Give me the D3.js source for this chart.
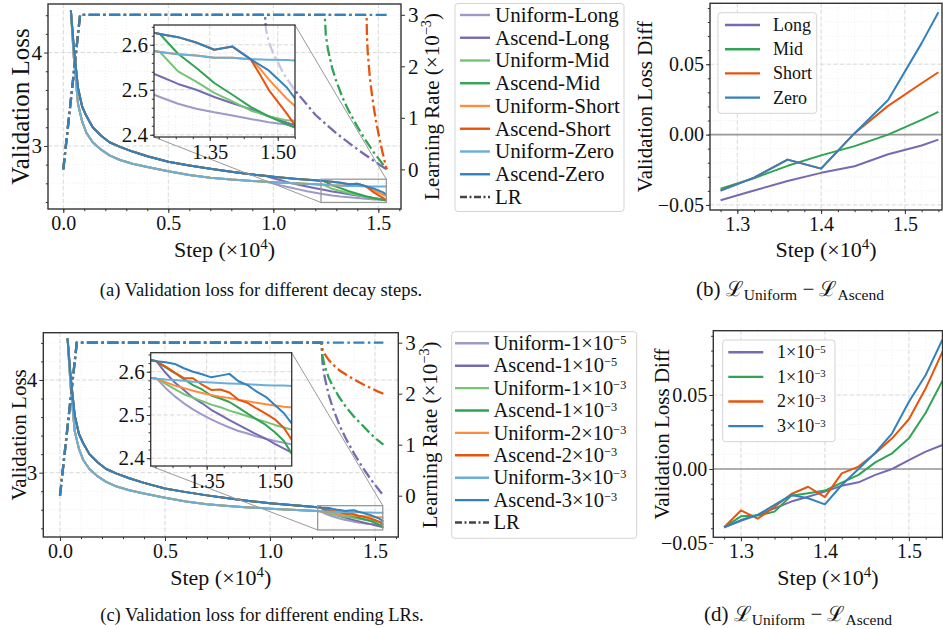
<!DOCTYPE html>
<html>
<head>
<meta charset="utf-8">
<script src="https://cdn.jsdelivr.net/npm/d3@7"></script>
<style>
  body { margin: 0; background: #fff; }
  svg text { font-family: "Liberation Serif", "Times New Roman", "DejaVu Serif", serif; fill: #111; }
</style>
</head>
<body>
<svg id="fig" width="943" height="629"></svg>
<script>
// ---------- data (step in units of 1e4) ----------
// shared constant-LR phase
const stableSteps   = [0.036, 0.05, 0.07, 0.09, 0.11, 0.14, 0.18, 0.22, 0.27, 0.33, 0.4, 0.5, 0.6, 0.7, 0.8, 0.9, 0.96, 1.0, 1.1, 1.2, 1.24];
const ascendStable  = [4.45, 4.05, 3.62, 3.42, 3.32, 3.2, 3.11, 3.04, 2.99, 2.94, 2.89, 2.83, 2.79, 2.755, 2.725, 2.695, 2.68, 2.67, 2.65, 2.633, 2.624];
const uniformStable = [4.45, 3.95, 3.45, 3.26, 3.14, 3.04, 2.96, 2.9, 2.85, 2.81, 2.775, 2.73, 2.69, 2.66, 2.64, 2.625, 2.618, 2.612, 2.600, 2.590, 2.584];

// (a) decay-step runs
const tailStepsA  = [1.24, 1.28, 1.32, 1.36, 1.40, 1.44, 1.48, 1.52, 1.54];
const ascZeroA    = [2.624, 2.617, 2.605, 2.589, 2.596, 2.568, 2.543, 2.505, 2.478];
const uniZeroA    = [2.584, 2.579, 2.576, 2.571, 2.571, 2.568, 2.567, 2.566, 2.565];
const ascMidA     = [2.624, 2.580, 2.549, 2.515, 2.489, 2.462, 2.441, 2.423, 2.415];
const uniMidA     = [2.584, 2.541, 2.518, 2.493, 2.474, 2.454, 2.441, 2.432, 2.431];
const shortStepsA = [1.44, 1.46, 1.48, 1.52, 1.54];
const ascShortA   = [2.568, 2.535, 2.500, 2.447, 2.418];
const uniShortA   = [2.568, 2.548, 2.523, 2.480, 2.462];
const longStepsA  = [0.96, 1.0, 1.04, 1.08, 1.12, 1.16, 1.2, 1.24, 1.28, 1.32, 1.36, 1.40, 1.44, 1.48, 1.52, 1.54];
const ascLongA    = [2.68, 2.655, 2.63, 2.605, 2.585, 2.565, 2.547, 2.53, 2.513, 2.50, 2.484, 2.47, 2.457, 2.441, 2.427, 2.421];
const uniLongA    = [2.618, 2.597, 2.575, 2.555, 2.535, 2.515, 2.5, 2.484, 2.469, 2.458, 2.45, 2.443, 2.435, 2.428, 2.423, 2.418];

// (c) ending-LR runs
const tailStepsC = [1.24, 1.26, 1.28, 1.30, 1.32, 1.34, 1.36, 1.38, 1.40, 1.42, 1.44, 1.46, 1.48, 1.50, 1.52, 1.54];
const asc3e3C = [2.624, 2.622, 2.618, 2.608, 2.600, 2.594, 2.587, 2.591, 2.595, 2.578, 2.569, 2.554, 2.542, 2.523, 2.504, 2.476];
const uni3e3C = [2.584, 2.582, 2.581, 2.579, 2.577, 2.576, 2.575, 2.574, 2.573, 2.572, 2.571, 2.570, 2.569, 2.568, 2.568, 2.567];
const asc2e3C = [2.624, 2.612, 2.598, 2.585, 2.585, 2.570, 2.558, 2.559, 2.552, 2.535, 2.528, 2.515, 2.503, 2.490, 2.470, 2.438];
const uni2e3C = [2.584, 2.576, 2.568, 2.562, 2.556, 2.551, 2.546, 2.542, 2.539, 2.535, 2.532, 2.528, 2.525, 2.522, 2.519, 2.517];
const asc1e3C = [2.624, 2.610, 2.597, 2.583, 2.569, 2.559, 2.545, 2.538, 2.530, 2.517, 2.503, 2.490, 2.477, 2.460, 2.440, 2.405];
const uni1e3C = [2.584, 2.572, 2.560, 2.548, 2.540, 2.532, 2.524, 2.518, 2.510, 2.504, 2.497, 2.490, 2.484, 2.477, 2.471, 2.465];
const asc1e5C = [2.624, 2.597, 2.575, 2.558, 2.540, 2.527, 2.512, 2.500, 2.488, 2.477, 2.466, 2.455, 2.445, 2.433, 2.422, 2.412];
const uni1e5C = [2.584, 2.562, 2.543, 2.527, 2.513, 2.501, 2.490, 2.480, 2.471, 2.463, 2.457, 2.450, 2.445, 2.440, 2.436, 2.431];

// learning-rate schedules (x1e-3)
const lrWarmSteps  = [0, 0.08];
const lrWarmVals   = [0, 3];
const lrConstSteps = [0.08, 1.54];
const lrConstVals  = [3, 3];
const lrLongSteps  = [0.96, 0.965, 0.98, 1.0, 1.05, 1.1, 1.2, 1.3, 1.4, 1.48, 1.54];
const lrLongVals   = [3.0, 2.72, 2.45, 2.25, 1.85, 1.55, 1.06, 0.7, 0.39, 0.16, 0];
const lrMidSteps   = [1.245, 1.25, 1.26, 1.28, 1.30, 1.33, 1.36, 1.40, 1.44, 1.48, 1.51, 1.54];
const lrMidVals    = [3.0, 2.61, 2.33, 1.97, 1.71, 1.39, 1.13, 0.83, 0.56, 0.32, 0.16, 0];
const lrShortSteps = [1.444, 1.446, 1.45, 1.46, 1.47, 1.48, 1.49, 1.50, 1.51, 1.52, 1.53, 1.54];
const lrShortVals  = [3.0, 2.57, 2.25, 1.77, 1.44, 1.16, 0.92, 0.71, 0.51, 0.33, 0.16, 0];
const lrEndSteps   = [1.245, 1.25, 1.26, 1.28, 1.30, 1.33, 1.36, 1.40, 1.44, 1.48, 1.51, 1.54];
const lrTo2Vals    = [3.0, 2.87, 2.78, 2.66, 2.57, 2.46, 2.38, 2.28, 2.19, 2.11, 2.05, 2.0];
const lrTo1Vals    = [3.0, 2.74, 2.55, 2.31, 2.14, 1.93, 1.75, 1.55, 1.38, 1.21, 1.1, 1.0];
const lrTo0Vals    = [3.0, 2.61, 2.33, 1.97, 1.71, 1.39, 1.13, 0.83, 0.56, 0.32, 0.16, 0];

// (b) L_uniform - L_ascend
const diffStepsB = [1.28, 1.32, 1.36, 1.40, 1.44, 1.48, 1.52, 1.54];
const diffLongB  = [-0.0467, -0.0398, -0.0330, -0.0272, -0.0225, -0.0140, -0.0078, -0.0036];
const diffMidB   = [-0.0384, -0.0310, -0.0222, -0.0148, -0.0082, 0.0000, 0.0105, 0.0161];
const diffShortB = [-0.0398, -0.0306, -0.0178, -0.0242, 0.0010, 0.0204, 0.0365, 0.0443];
const diffZeroB  = [-0.0398, -0.0306, -0.0178, -0.0242, 0.0010, 0.0246, 0.0650, 0.0870];

// (d) L_uniform - L_ascend
const diffStepsD = [1.28, 1.30, 1.32, 1.34, 1.36, 1.38, 1.40, 1.42, 1.44, 1.46, 1.48, 1.50, 1.52, 1.54];
const diff1e5D = [-0.0394, -0.0350, -0.0310, -0.0266, -0.0220, -0.0187, -0.0153, -0.0113, -0.0090, -0.0040, 0.0000, 0.0060, 0.0117, 0.0162];
const diff1e3D = [-0.0394, -0.0320, -0.0315, -0.0288, -0.0180, -0.0164, -0.0146, -0.0092, -0.0040, 0.0045, 0.0106, 0.0207, 0.0380, 0.0597];
const diff2e3D = [-0.0394, -0.0280, -0.0336, -0.0255, -0.0169, -0.0120, -0.0190, -0.0030, 0.0016, 0.0106, 0.0207, 0.0336, 0.0545, 0.0793];
const diff3e3D = [-0.0394, -0.0345, -0.0310, -0.0243, -0.0176, -0.0198, -0.0239, -0.0108, 0.0000, 0.0110, 0.0241, 0.0455, 0.0635, 0.0876];

// labels / ticks
const labelsA = ['Uniform-Long', 'Ascend-Long', 'Uniform-Mid', 'Ascend-Mid', 'Uniform-Short', 'Ascend-Short', 'Uniform-Zero', 'Ascend-Zero'];
const labelsC = [['Uniform-1×10', '−5'], ['Ascend-1×10', '−5'], ['Uniform-1×10', '−3'], ['Ascend-1×10', '−3'],
                 ['Uniform-2×10', '−3'], ['Ascend-2×10', '−3'], ['Uniform-3×10', '−3'], ['Ascend-3×10', '−3']];
const labelsB = ['Long', 'Mid', 'Short', 'Zero'];
const labelsD = [['1×10', '−5'], ['1×10', '−3'], ['2×10', '−3'], ['3×10', '−3']];
const colors8 = ['#9e9ac8', '#756bb1', '#74c476', '#31a354', '#fd8d3c', '#e6550d', '#6baed6', '#3182bd'];
const colors4 = ['#756bb1', '#31a354', '#e6550d', '#3182bd'];
const xTicksMain = [0, 0.5, 1.0, 1.5];
const yTicksMain = [3, 4];
const lrTicks = [0, 1, 2, 3];
const xTicksInset = [1.35, 1.50];
const yTicksInset = [2.4, 2.5, 2.6];
const xTicksDiff = [1.3, 1.4, 1.5];
const yTicksDiff = [-0.05, 0, 0.05];

const FONT = '"Liberation Serif","Times New Roman","DejaVu Serif",serif';
const svg = d3.select('#fig');
const defs = svg.append('defs');
const LR_DASH = '11,3.5,2.5,3.5';

const pts = (xs, ys) => xs.map((v, i) => [v, ys[i]]);
const extend = (base, tail) => base.filter(p => p[0] < tail[0][0]).concat(tail);
const inside = (arr, dom) => arr.filter(v => v >= Math.min(...dom) - 1e-9 && v <= Math.max(...dom) + 1e-9);

function clipRect(id, b) {
    defs.append('clipPath').attr('id', id).append('rect')
        .attr('x', b.l).attr('y', b.t).attr('width', b.r - b.l).attr('height', b.b - b.t);
    return `url(#${id})`;
}

function gridLines(g, x, y, b, xs, ys, major) {
    const st = major ? { c: '#d2d2d2', w: 0.8, d: '4,2.5' } : { c: '#e4e4e4', w: 0.6, d: '1,2' };
    g.append('g').selectAll('line').data(inside(xs, x.domain())).join('line')
        .attr('x1', d => x(d)).attr('x2', d => x(d)).attr('y1', b.t).attr('y2', b.b)
        .attr('stroke', st.c).attr('stroke-width', st.w).attr('stroke-dasharray', st.d);
    g.append('g').selectAll('line').data(inside(ys, y.domain())).join('line')
        .attr('y1', d => y(d)).attr('y2', d => y(d)).attr('x1', b.l).attr('x2', b.r)
        .attr('stroke', st.c).attr('stroke-width', st.w).attr('stroke-dasharray', st.d);
}

function styleAxis(a, fs) {
    a.select('.domain').remove();
    a.selectAll('.tick line').attr('stroke', '#333').attr('stroke-width', 1);
    a.selectAll('.tick text').attr('font-family', FONT).attr('font-size', fs).attr('fill', '#111');
}

function axis(g, scale, orient, pos, major, minor, fmt, fs, size = 4, pad = 2) {
    const mk = { bottom: d3.axisBottom, left: d3.axisLeft, right: d3.axisRight }[orient];
    const tr = orient === 'bottom' ? `translate(0,${pos})` : `translate(${pos},0)`;
    const a = g.append('g').attr('transform', tr)
        .call(mk(scale).tickValues(major).tickFormat(fmt).tickSize(size).tickPadding(pad));
    styleAxis(a, fs);
    if (minor) {
        const m = g.append('g').attr('transform', tr)
            .call(mk(scale).tickValues(inside(minor, scale.domain())).tickFormat('').tickSize(size * 0.55));
        styleAxis(m, fs);
    }
}

function frame(g, b, w = 1.4) {
    g.append('rect').attr('x', b.l).attr('y', b.t).attr('width', b.r - b.l).attr('height', b.b - b.t)
        .attr('fill', 'none').attr('stroke', '#333').attr('stroke-width', w);
}

function supText(t, base, sup, after, fs, rise = 0.36, scale = 0.68) {
    t.append('tspan').text(base);
    t.append('tspan').attr('dy', -rise * fs).attr('font-size', fs * scale).text(sup);
    if (after) t.append('tspan').attr('dy', rise * fs).text(after);
}

function legend(g, o) {
    g.append('rect').attr('x', o.x).attr('y', o.y).attr('width', o.w).attr('height', o.h).attr('rx', 3)
        .attr('fill', '#fff').attr('fill-opacity', 0.85).attr('stroke', '#d4d4d4');
    o.items.forEach((it, i) => {
        const cy = o.row0 + i * o.dy;
        g.append('line').attr('x1', o.lx0).attr('x2', o.lx1).attr('y1', cy).attr('y2', cy)
            .attr('stroke', it.color).attr('stroke-width', 2.4).attr('stroke-dasharray', it.dash || null);
        const t = g.append('text').attr('x', o.tx).attr('y', cy + o.fs * 0.33)
            .attr('font-size', o.fs).attr('font-family', FONT);
        if (Array.isArray(it.label)) supText(t, it.label[0], it.label[1], null, o.fs, 0.3, 0.6);
        else t.text(it.label);
    });
}

function yLabel(g, x, y, fs, build) {
    const t = g.append('text').attr('transform', `translate(${x},${y}) rotate(-90)`)
        .attr('text-anchor', 'middle').attr('font-size', fs).attr('font-family', FONT);
    build(t);
}

function stepLabel(g, x, y, fs) {
    const t = g.append('text').attr('x', x).attr('y', y).attr('text-anchor', 'middle')
        .attr('font-size', fs).attr('font-family', FONT);
    supText(t, 'Step (×10', '4', ')', fs);
}

// ---------- loss panel with LR twin axis and zoom inset ----------
function lossPanel(o) {
    const g = svg.append('g');
    const b = o.box;
    const x = d3.scaleLinear().domain(o.xDom).range([b.l, b.r]);
    const y = d3.scaleLinear().domain(o.yDom).range([b.b, b.t]);
    const yr = d3.scaleLinear().domain(o.lrDom).range([b.b, b.t]);

    gridLines(g, x, y, b, d3.range(-0.1, 1.65, 0.1), d3.range(2.2, 4.6, 0.2), false);
    gridLines(g, x, y, b, xTicksMain, yTicksMain, true);

    const plot = g.append('g').attr('clip-path', clipRect(o.id, b));
    const line = d3.line().x(d => x(d[0])).y(d => y(d[1]));
    o.series.forEach((s, i) => plot.append('path').attr('d', line(s)).attr('fill', 'none')
        .attr('stroke', colors8[i]).attr('stroke-width', 2).attr('stroke-linejoin', 'round'));
    const lrLine = d3.line().x(d => x(d[0])).y(d => yr(d[1]));
    o.lr.forEach((s, i) => plot.append('path').attr('d', lrLine(s)).attr('fill', 'none')
        .attr('stroke', colors4[i]).attr('stroke-width', 2.3).attr('stroke-dasharray', LR_DASH));

    frame(g, b);
    axis(g, x, 'bottom', b.b, xTicksMain, d3.range(-0.1, 1.65, 0.1), d3.format('.1f'), 20, 4, 3);
    axis(g, y, 'left', b.l, yTicksMain, [2.4, 2.6, 2.8, 3.2, 3.4, 3.6, 3.8, 4.2, 4.4], d3.format('d'), 21, 4, 2);
    axis(g, yr, 'right', b.r, lrTicks, null, d3.format('d'), 21, 4, 3);

    // zoom inset
    const ib = o.inset.box;
    const ix = d3.scaleLinear().domain(o.inset.xDom).range([ib.l, ib.r]);
    const iy = d3.scaleLinear().domain(o.inset.yDom).range([ib.b, ib.t]);
    const rx0 = x(o.inset.xDom[0]), rx1 = x(o.inset.xDom[1]);
    const ry0 = y(o.inset.yDom[1]), ry1 = y(o.inset.yDom[0]);
    g.append('rect').attr('x', rx0).attr('y', ry0).attr('width', rx1 - rx0).attr('height', ry1 - ry0)
        .attr('fill', 'none').attr('stroke', '#999').attr('stroke-width', 1.3);
    g.append('line').attr('x1', ib.r).attr('y1', ib.t).attr('x2', rx1).attr('y2', ry0)
        .attr('stroke', '#999').attr('stroke-width', 1);
    g.append('line').attr('x1', ib.l).attr('y1', ib.b).attr('x2', rx0).attr('y2', ry1)
        .attr('stroke', '#999').attr('stroke-width', 1);

    const ig = g.append('g');
    ig.append('rect').attr('x', ib.l).attr('y', ib.t).attr('width', ib.r - ib.l).attr('height', ib.b - ib.t)
        .attr('fill', '#fff').attr('fill-opacity', 0.62);
    const xMinorIn = d3.range(1.2375, 1.55, 0.0375);
    const yMinorIn = d3.range(2.38, 2.65, 0.02);
    gridLines(ig, ix, iy, ib, xMinorIn, yMinorIn, false);
    gridLines(ig, ix, iy, ib, xTicksInset, yTicksInset, true);
    const iplot = ig.append('g').attr('clip-path', clipRect(o.id + 'in', ib));
    const iline = d3.line().x(d => ix(d[0])).y(d => iy(d[1]));
    o.series.forEach((s, i) => iplot.append('path').attr('d', iline(s)).attr('fill', 'none')
        .attr('stroke', colors8[i]).attr('stroke-width', 2).attr('stroke-linejoin', 'round'));
    frame(ig, ib, 1.3);
    axis(ig, ix, 'bottom', ib.b, xTicksInset, xMinorIn, d3.format('.2f'), 20.5, 4, 3);
    axis(ig, iy, 'left', ib.l, yTicksInset, yMinorIn, d3.format('.1f'), 21, 4, 2);

    legend(g, o.legend);

    yLabel(g, o.yl.x, (b.t + b.b) / 2, o.yl.fs, t => t.text('Validation Loss'));
    yLabel(g, o.lrl.x, (b.t + b.b) / 2, 21, t => supText(t, 'Learning Rate (×10', '−3', ')', 21));
    stepLabel(g, (b.l + b.r) / 2, o.stepY, 22);
    g.append('text').attr('x', o.cap.x).attr('y', o.cap.y).attr('text-anchor', 'middle')
        .attr('font-size', 18.5).attr('font-family', FONT).text(o.cap.text);
}

// ---------- difference panel ----------
function diffPanel(o) {
    const g = svg.append('g');
    const b = o.box;
    const x = d3.scaleLinear().domain(o.xDom).range([b.l, b.r]);
    const y = d3.scaleLinear().domain(o.yDom).range([b.b, b.t]);
    const xMinor = d3.range(1.26, 1.56, 0.02);
    const yMinor = d3.range(-0.06, 0.1, 0.01);
    gridLines(g, x, y, b, xMinor, yMinor, false);
    gridLines(g, x, y, b, xTicksDiff, yTicksDiff, true);
    const plot = g.append('g').attr('clip-path', clipRect(o.id, b));
    plot.append('line').attr('x1', b.l).attr('x2', b.r).attr('y1', y(0)).attr('y2', y(0))
        .attr('stroke', '#999').attr('stroke-width', 1.6);
    const line = d3.line().x(d => x(d[0])).y(d => y(d[1]));
    o.series.forEach((s, i) => plot.append('path').attr('d', line(s)).attr('fill', 'none')
        .attr('stroke', colors4[i]).attr('stroke-width', 2).attr('stroke-linejoin', 'round'));
    frame(g, b);
    axis(g, x, 'bottom', b.b, xTicksDiff, xMinor, d3.format('.1f'), 20, 4, 3);
    axis(g, y, 'left', b.l, yTicksDiff, yMinor, d3.format('.2f'), 20, 4, 2);
    legend(g, o.legend);
    yLabel(g, o.ylx, (b.t + b.b) / 2, 21, t => t.text('Validation Loss Diff'));
    stepLabel(g, (b.l + b.r) / 2, o.stepY, 22);
    const c = g.append('text').attr('x', o.cap.x).attr('y', o.cap.y).attr('text-anchor', 'middle')
        .attr('font-size', 21).attr('font-family', FONT);
    c.append('tspan').text(o.cap.tag + ' ℒ');
    c.append('tspan').attr('dy', 4).attr('font-size', 15.5).text('Uniform');
    c.append('tspan').attr('dy', -4).text(' − ℒ');
    c.append('tspan').attr('dy', 4).attr('font-size', 15.5).text('Ascend');
}

// ---------- build series ----------
const ascBase = pts(stableSteps, ascendStable);
const uniBase = pts(stableSteps, uniformStable);

const aZeroA = extend(ascBase, pts(tailStepsA, ascZeroA));
const uZeroA = extend(uniBase, pts(tailStepsA, uniZeroA));
const seriesA = [
    extend(uniBase, pts(longStepsA, uniLongA)),
    extend(ascBase, pts(longStepsA, ascLongA)),
    extend(uniBase, pts(tailStepsA, uniMidA)),
    extend(ascBase, pts(tailStepsA, ascMidA)),
    extend(uZeroA, pts(shortStepsA, uniShortA)),
    extend(aZeroA, pts(shortStepsA, ascShortA)),
    uZeroA,
    aZeroA
];
const warm = pts(lrWarmSteps, lrWarmVals);
const lrConst = warm.concat(pts(lrConstSteps, lrConstVals).slice(1));
const lrA = [
    warm.concat(pts(lrLongSteps, lrLongVals)),
    warm.concat(pts(lrMidSteps, lrMidVals)),
    warm.concat(pts(lrShortSteps, lrShortVals)),
    lrConst
];
const seriesC = [
    extend(uniBase, pts(tailStepsC, uni1e5C)),
    extend(ascBase, pts(tailStepsC, asc1e5C)),
    extend(uniBase, pts(tailStepsC, uni1e3C)),
    extend(ascBase, pts(tailStepsC, asc1e3C)),
    extend(uniBase, pts(tailStepsC, uni2e3C)),
    extend(ascBase, pts(tailStepsC, asc2e3C)),
    extend(uniBase, pts(tailStepsC, uni3e3C)),
    extend(ascBase, pts(tailStepsC, asc3e3C))
];
const lrC = [
    warm.concat(pts(lrEndSteps, lrTo0Vals)),
    warm.concat(pts(lrEndSteps, lrTo1Vals)),
    warm.concat(pts(lrEndSteps, lrTo2Vals)),
    lrConst
];

const legendItems8 = labels => labels.map((l, i) => ({ label: l, color: colors8[i] }))
    .concat([{ label: 'LR', color: '#444', dash: '7,2.5,2,2.5' }]);

// ---------- draw ----------
lossPanel({
    id: 'clipA',
    box: { l: 48, r: 401, t: 4, b: 209 },
    xDom: [-0.0729, 1.608], yDom: [2.325, 4.52], lrDom: [-0.77, 3.21],
    series: seriesA, lr: lrA,
    inset: { box: { l: 154, r: 295, t: 25, b: 137 }, xDom: [1.227, 1.538], yDom: [2.395, 2.644] },
    legend: { x: 455, y: 3.5, w: 169, h: 208, row0: 15, dy: 22.75, lx0: 460, lx1: 490, tx: 495, fs: 21,
              items: legendItems8(labelsA) },
    yl: { x: 29, fs: 25 }, lrl: { x: 439 },
    stepY: 257,
    cap: { x: 261, y: 296, text: '(a)  Validation loss for different decay steps.' }
});

lossPanel({
    id: 'clipC',
    box: { l: 43.3, r: 398.3, t: 332.7, b: 537 },
    xDom: [-0.0795, 1.611], yDom: [2.306, 4.51], lrDom: [-0.81, 3.196],
    series: seriesC, lr: lrC,
    inset: { box: { l: 150.7, r: 291.7, t: 352.7, b: 466 }, xDom: [1.227, 1.537], yDom: [2.382, 2.644] },
    legend: { x: 451.7, y: 331.7, w: 185, h: 206.6, row0: 343.3, dy: 22.4, lx0: 455, lx1: 489, tx: 493.5, fs: 20.5,
              items: legendItems8(labelsC) },
    yl: { x: 26, fs: 21 }, lrl: { x: 437 },
    stepY: 585,
    cap: { x: 262, y: 621, text: '(c)  Validation loss for different ending LRs.' }
});

diffPanel({
    id: 'clipB',
    box: { l: 710, r: 942, t: 3.3, b: 210 },
    xDom: [1.2674, 1.5443], yDom: [-0.0536, 0.0933],
    series: [pts(diffStepsB, diffLongB), pts(diffStepsB, diffMidB), pts(diffStepsB, diffShortB), pts(diffStepsB, diffZeroB)],
    legend: { x: 718, y: 12.7, w: 98.7, h: 100.6, row0: 25, dy: 24.2, lx0: 725, lx1: 760, tx: 773, fs: 18,
              items: labelsB.map((l, i) => ({ label: l, color: colors4[i] })) },
    ylx: 652, stepY: 257,
    cap: { x: 790, y: 296, tag: '(b)' }
});

diffPanel({
    id: 'clipD',
    box: { l: 713.3, r: 942.5, t: 330.7, b: 537.3 },
    xDom: [1.2671, 1.5400], yDom: [-0.04615, 0.09345],
    series: [pts(diffStepsD, diff1e5D), pts(diffStepsD, diff1e3D), pts(diffStepsD, diff2e3D), pts(diffStepsD, diff3e3D)],
    legend: { x: 722.7, y: 340, w: 112.3, h: 101.7, row0: 352.3, dy: 24.6, lx0: 728.3, lx1: 763.3, tx: 777, fs: 18,
              items: labelsD.map((l, i) => ({ label: l, color: colors4[i] })) },
    ylx: 669, stepY: 585,
    cap: { x: 798, y: 621, tag: '(d)' }
});
</script>
</body>
</html>
